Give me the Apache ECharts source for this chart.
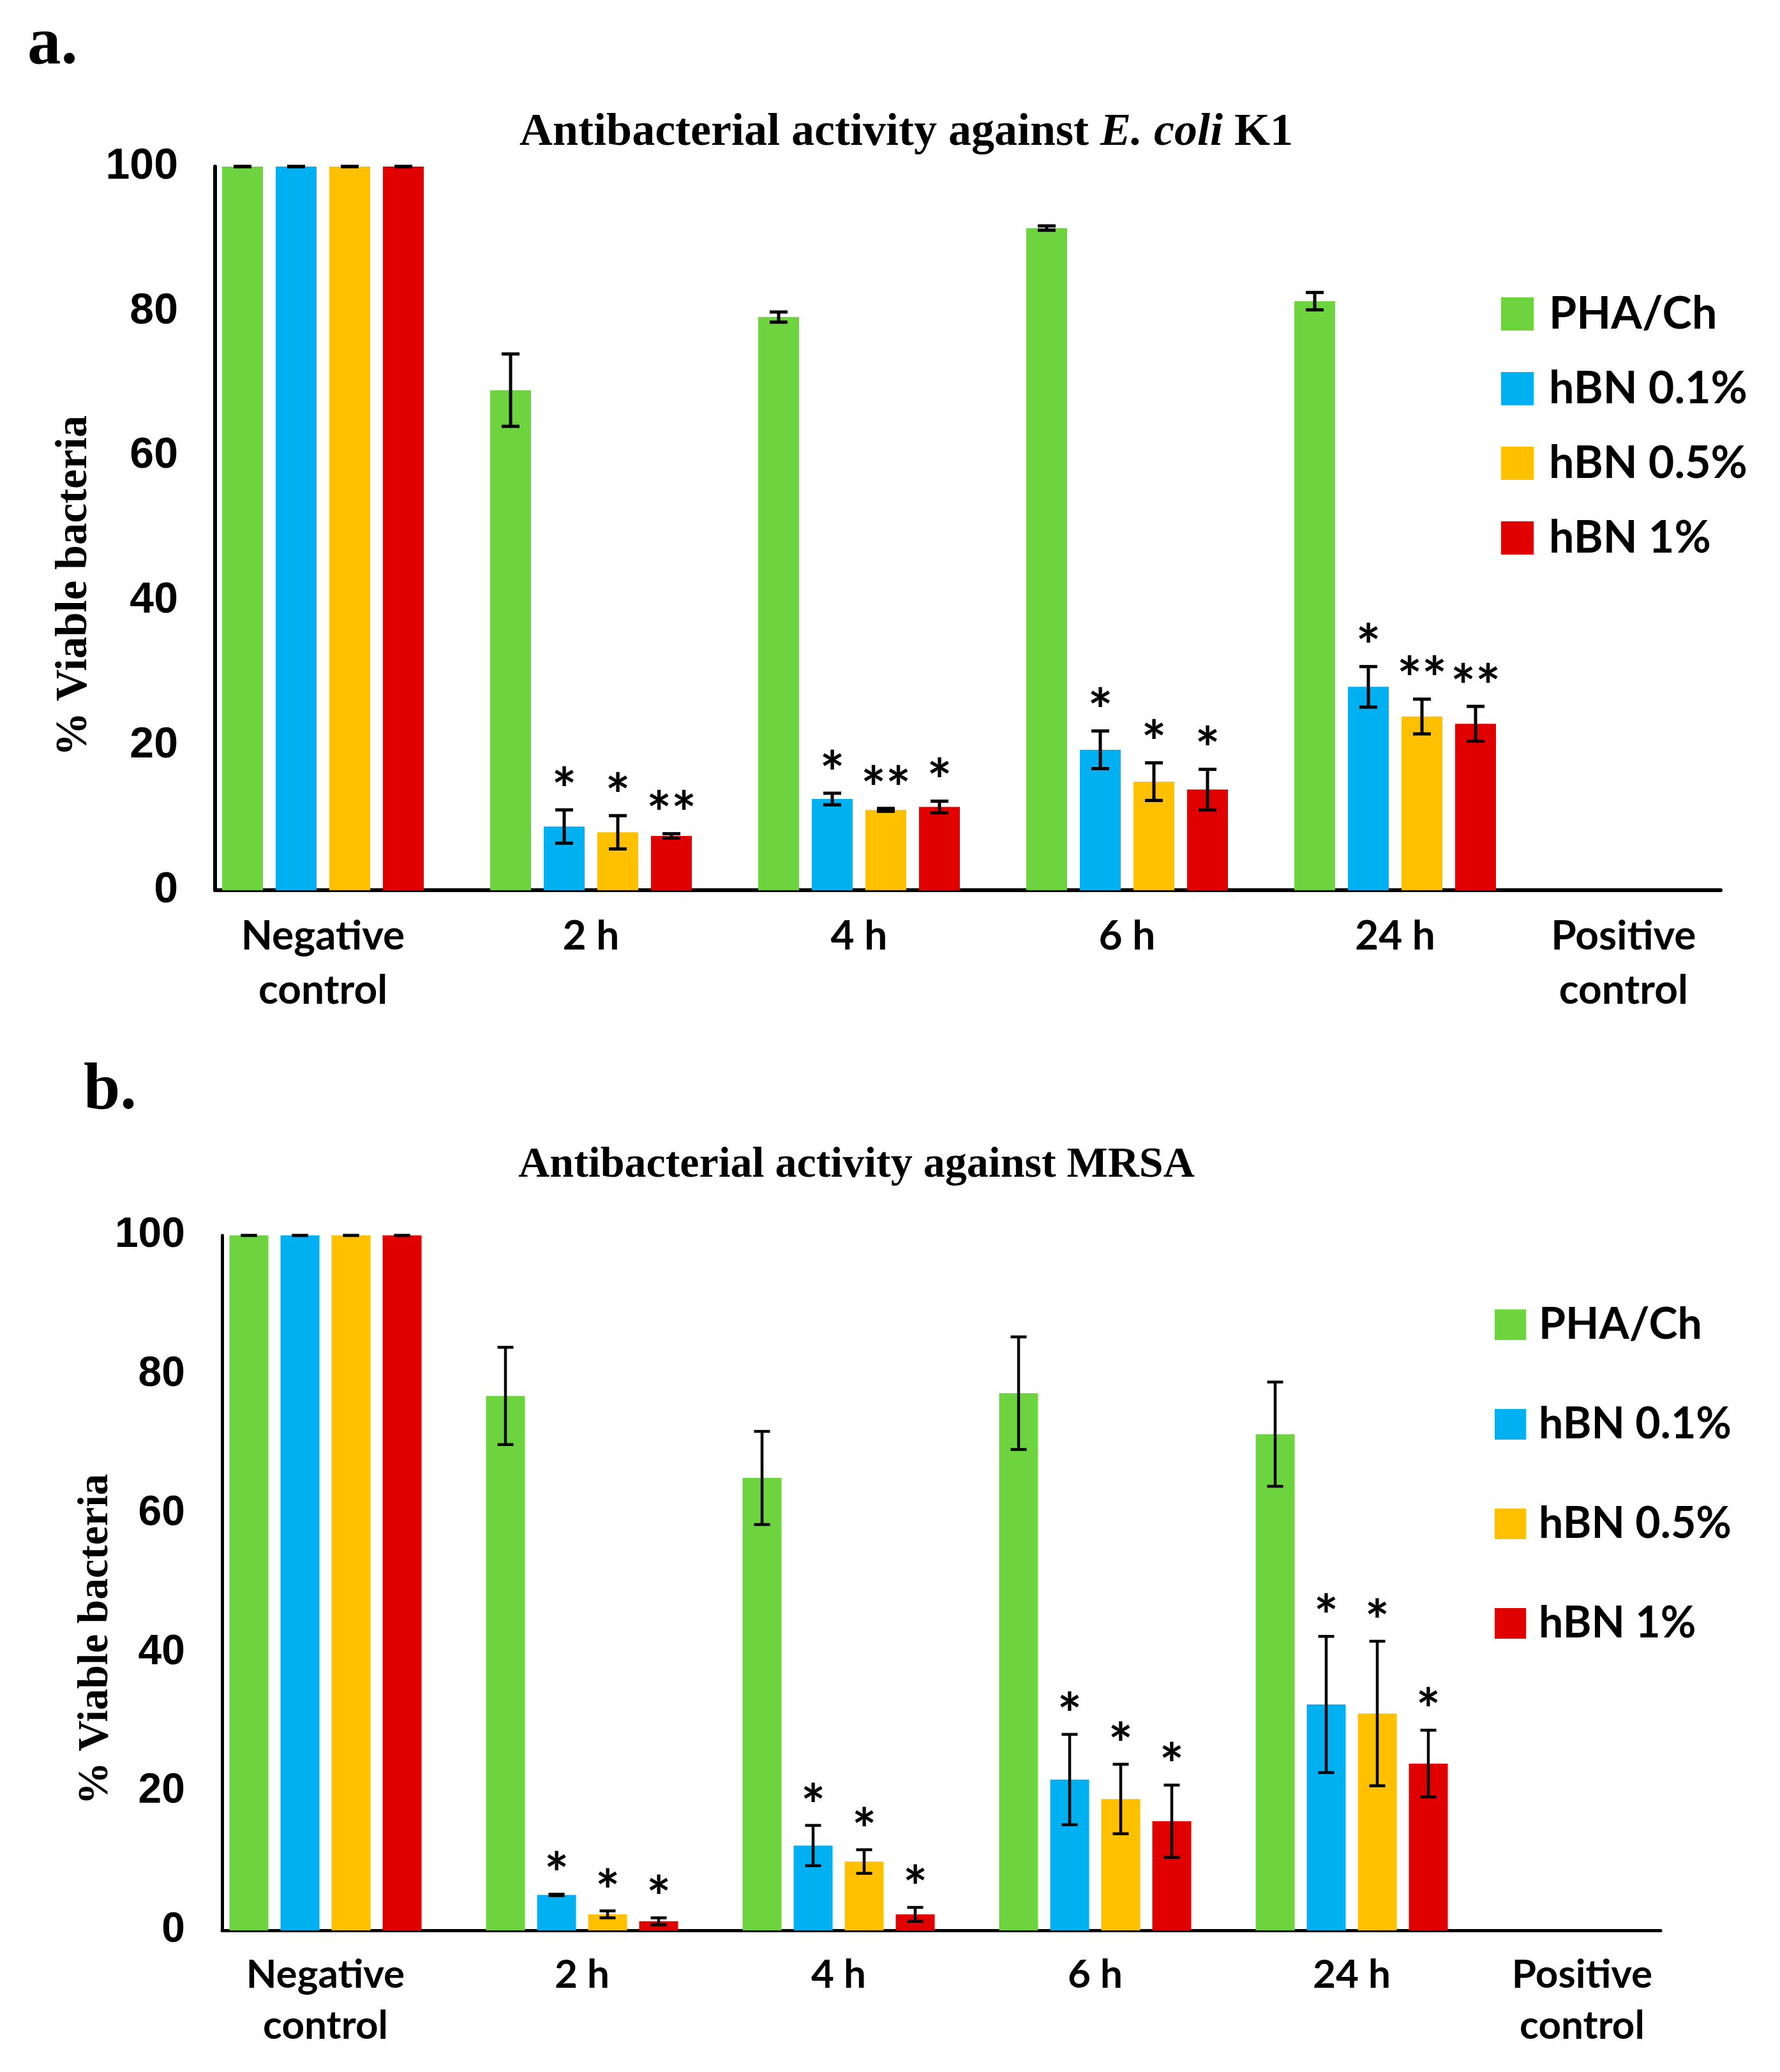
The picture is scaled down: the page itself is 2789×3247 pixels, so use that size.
<!DOCTYPE html>
<html>
<head>
<meta charset="utf-8">
<script src="https://cdn.jsdelivr.net/npm/echarts@6/dist/echarts.min.js"></script>
<style>
html,body{margin:0;padding:0;background:#ffffff;}
#chart{width:2789px;height:3247px;}
</style>
</head>
<body>
<div id="chart"></div>
<script>
// ---------- data ----------
const categories = ['Negative\ncontrol', '2 h', '4 h', '6 h', '24 h', 'Positive\ncontrol'];
const seriesNames = ['PHA/Ch', 'hBN 0.1%', 'hBN 0.5%', 'hBN 1%'];
const yTicks = [0, 20, 40, 60, 80, 100];

// Panel a: E. coli K1 (Negative control, 2 h, 4 h, 6 h, 24 h)
const ecoliPHA     = [100, 69.1, 79.2, 91.5, 81.4];
const ecoliPHAErr  = [0, 5.0, 0.7, 0.3, 1.2];
const ecoli01      = [100, 8.8, 12.6, 19.4, 28.1];
const ecoli01Err   = [0, 2.3, 0.8, 2.6, 2.8];
const ecoli05      = [100, 8.0, 11.1, 15.0, 24.0];
const ecoli05Err   = [0, 2.3, 0.2, 2.6, 2.4];
const ecoli1       = [100, 7.5, 11.5, 13.9, 23.0];
const ecoli1Err    = [0, 0.3, 0.8, 2.8, 2.4];
const ecoliStarsPHA = ['', '', '', '', ''];
const ecoliStars01  = ['', '*', '*', '*', '*'];
const ecoliStars05  = ['', '*', '**', '*', '**'];
const ecoliStars1   = ['', '**', '*', '*', '**'];

// Panel b: MRSA
const mrsaPHA      = [100, 76.9, 65.1, 77.3, 71.4];
const mrsaPHAErr   = [0, 7.0, 6.7, 8.1, 7.5];
const mrsa01       = [100, 5.1, 12.2, 21.7, 32.5];
const mrsa01Err    = [0, 0.1, 2.9, 6.5, 9.8];
const mrsa05       = [100, 2.3, 9.9, 18.9, 31.2];
const mrsa05Err    = [0, 0.5, 1.7, 5.0, 10.4];
const mrsa1        = [100, 1.3, 2.3, 15.7, 24.0];
const mrsa1Err     = [0, 0.5, 1.0, 5.2, 4.8];
const mrsaStarsPHA = ['', '', '', '', ''];
const mrsaStars01  = ['', '*', '*', '*', '*'];
const mrsaStars05  = ['', '*', '*', '*', '*'];
const mrsaStars1   = ['', '*', '*', '*', '*'];

// ---------- styling / layout ----------
const colors = ['#6DD33F', '#00B0F0', '#FFC000', '#E00000'];

const panels = [
  {
    values: [ecoliPHA, ecoli01, ecoli05, ecoli1],
    errs: [ecoliPHAErr, ecoli01Err, ecoli05Err, ecoli1Err],
    stars: [ecoliStarsPHA, ecoliStars01, ecoliStars05, ecoliStars1],
    grid: {left: 337, top: 261, width: 2359, height: 1134},
    xMin: -0.4024, xMax: 5.2143,
    labelSlots: [0, 1, 2, 3, 4, 4.852],
    barWidth: 64, barStep: 84,
    axisW: 6, errW: 5, capW: 28,
    tickFont: 68, tickMargin: 58,
    catFont: 64, catLine: 85, catMargin: 30,
    starFont: 92, starGap: 28,
    legend: {left: 2352, top: 457, iw: 51, ih: 52, gap: 47, font: 70, pad: 19}
  },
  {
    values: [mrsaPHA, mrsa01, mrsa05, mrsa1],
    errs: [mrsaPHAErr, mrsa01Err, mrsa05Err, mrsa1Err],
    stars: [mrsaStarsPHA, mrsaStars01, mrsaStars05, mrsaStars1],
    grid: {left: 348, top: 1936, width: 2254, height: 1089},
    xMin: -0.4030, xMax: 5.2040,
    labelSlots: [0, 1, 2, 3, 4, 4.898],
    barWidth: 61, barStep: 80,
    axisW: 5, errW: 4.5, capW: 25,
    tickFont: 66, tickMargin: 58,
    catFont: 62, catLine: 80, catMargin: 30,
    starFont: 90, starGap: 28,
    legend: {left: 2342, top: 2042, iw: 49, ih: 48, gap: 88, font: 68, pad: 15}
  }
];

const grids = [], xAxes = [], yAxes = [], series = [], legends = [];

panels.forEach((p, k) => {
  grids.push(Object.assign({containLabel: false}, p.grid));
  xAxes.push({
    gridIndex: k, type: 'value', min: p.xMin, max: p.xMax,
    axisLine: {show: true, onZero: false, lineStyle: {color: '#000', width: p.axisW}},
    axisTick: {show: false}, splitLine: {show: false},
    axisLabel: {
      customValues: p.labelSlots,
      formatter: function (v) {
        let best = 0, d = Infinity;
        p.labelSlots.forEach((s, i) => { if (Math.abs(s - v) < d) { d = Math.abs(s - v); best = i; } });
        return categories[best];
      },
      fontFamily: 'Lato', fontWeight: 'bold', fontSize: p.catFont, lineHeight: p.catLine,
      color: '#000', margin: p.catMargin
    }
  });
  yAxes.push({
    gridIndex: k, type: 'value',
    min: yTicks[0], max: yTicks[yTicks.length - 1], interval: yTicks[1] - yTicks[0],
    axisLine: {show: true, onZero: false, lineStyle: {color: '#000', width: p.axisW}},
    axisTick: {show: false}, splitLine: {show: false},
    axisLabel: {fontFamily: 'Liberation Sans', fontWeight: 'bold', fontSize: p.tickFont, color: '#000', margin: p.tickMargin}
  });
  const gapPct = ((p.barStep - p.barWidth) / p.barWidth * 100).toFixed(2) + '%';
  const errData = [];
  p.values.forEach((vals, s) => {
    series.push({
      type: 'bar', name: seriesNames[s], xAxisIndex: k, yAxisIndex: k,
      barWidth: p.barWidth, barGap: gapPct,
      itemStyle: {color: colors[s]},
      data: vals.map((v, i) => [i, v]),
      z: 2, silent: true
    });
    vals.forEach((v, i) => errData.push([i, v, p.errs[s][i], s]));
  });
  series.push({
    type: 'custom', name: 'errors' + k, xAxisIndex: k, yAxisIndex: k, z: 5, silent: true,
    data: errData,
    renderItem: function (params, api) {
      const i = api.value(0), v = api.value(1), e = api.value(2), s = api.value(3);
      const off = (s - 1.5) * p.barStep;
      const top = api.coord([i, v + e]);
      const bot = api.coord([i, v - e]);
      const x = top[0] + off;
      const h = p.capW / 2;
      const st = {stroke: '#000', lineWidth: p.errW};
      const children = [
        {type: 'line', shape: {x1: x, y1: top[1], x2: x, y2: bot[1]}, style: st},
        {type: 'line', shape: {x1: x - h, y1: top[1], x2: x + h, y2: top[1]}, style: st},
        {type: 'line', shape: {x1: x - h, y1: bot[1], x2: x + h, y2: bot[1]}, style: st}
      ];
      const star = p.stars[s][i];
      if (star) {
        children.push({
          type: 'text', x: x, y: top[1] - p.starGap,
          style: {text: star, fontFamily: 'Lato', fontWeight: 'bold', fontSize: p.starFont,
                  fill: '#000', align: 'center', verticalAlign: 'middle'}
        });
      }
      return {type: 'group', children: children};
    }
  });
  const L = p.legend;
  legends.push({
    data: seriesNames, orient: 'vertical', left: L.left, top: L.top, padding: 0,
    itemWidth: L.iw, itemHeight: L.ih, itemGap: L.gap, icon: 'rect', selectedMode: false,
    textStyle: {fontFamily: 'Lato', fontWeight: 'bold', fontSize: L.font, color: '#000',
                padding: [0, 0, 0, L.pad]}
  });
});

const serif = 'Liberation Serif, Times New Roman, serif';
const graphics = [
  {type: 'text', x: 43, y: 72, style: {text: 'a.', fontFamily: serif, fontWeight: 'bold', fontSize: 105, fill: '#000', align: 'left', verticalAlign: 'middle'}},
  {type: 'text', x: 131, y: 1710, style: {text: 'b.', fontFamily: serif, fontWeight: 'bold', fontSize: 103, fill: '#000', align: 'left', verticalAlign: 'middle'}},
  {type: 'text', x: 1420, y: 208, style: {
    text: '{n|Antibacterial activity against }{i|E. coli}{n| K1}',
    rich: {
      n: {fontFamily: serif, fontWeight: 'bold', fontSize: 72, fill: '#000'},
      i: {fontFamily: serif, fontWeight: 'bold', fontStyle: 'italic', fontSize: 72, fill: '#000'}
    },
    align: 'center', verticalAlign: 'middle'}},
  {type: 'text', x: 1342, y: 1826, style: {text: 'Antibacterial activity against MRSA', fontFamily: serif, fontWeight: 'bold', fontSize: 68, fill: '#000', align: 'center', verticalAlign: 'middle'}},
  {type: 'text', x: 117, y: 918, rotation: Math.PI / 2, style: {text: '% Viable bacteria', fontFamily: serif, fontWeight: 'bold', fontSize: 69, fill: '#000', align: 'center', verticalAlign: 'middle'}},
  {type: 'text', x: 151, y: 2569, rotation: Math.PI / 2, style: {text: '% Viable bacteria', fontFamily: serif, fontWeight: 'bold', fontSize: 67, fill: '#000', align: 'center', verticalAlign: 'middle'}}
];

const chart = echarts.init(document.getElementById('chart'), null, {renderer: 'canvas'});
chart.setOption({
  animation: false,
  backgroundColor: '#ffffff',
  grid: grids, xAxis: xAxes, yAxis: yAxes, legend: legends, series: series,
  graphic: graphics
});
</script>
</body>
</html>
